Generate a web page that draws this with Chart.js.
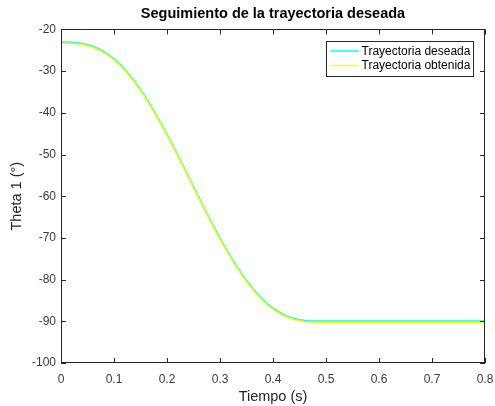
<!DOCTYPE html>
<html>
<head>
<meta charset="utf-8">
<title>Seguimiento de la trayectoria deseada</title>
<script src="https://cdn.jsdelivr.net/npm/chart.js@4/dist/chart.umd.min.js"></script>
<style>
  html, body { margin: 0; padding: 0; background: #fff; }
  .contenedor { position: relative; width: 495px; height: 406px; }
</style>
</head>
<body>
<div class="contenedor">
  <canvas id="grafico"></canvas>
</div>
<script>
// tiempo (s) y angulo theta 1 (grados)
const tiempo = [
  0, 0.01, 0.02, 0.03, 0.04, 0.05, 0.06, 0.07, 0.08, 0.09,
  0.10, 0.11, 0.12, 0.13, 0.14, 0.15, 0.16, 0.17, 0.18, 0.19,
  0.20, 0.21, 0.22, 0.23, 0.24, 0.25, 0.26, 0.27, 0.28, 0.29,
  0.30, 0.31, 0.32, 0.33, 0.34, 0.35, 0.36, 0.37, 0.38, 0.39,
  0.40, 0.41, 0.42, 0.43, 0.44, 0.45, 0.46, 0.47, 0.48, 0.49,
  0.50, 0.60, 0.70, 0.80
];
const thetaDeseada = [
  -23.10, -23.11, -23.14, -23.24, -23.42, -23.71, -24.11, -24.66, -25.35, -26.19,
  -27.19, -28.35, -29.67, -31.15, -32.78, -34.56, -36.47, -38.52, -40.68, -42.94,
  -45.29, -47.71, -50.19, -52.72, -55.27, -57.83, -60.38, -62.91, -65.39, -67.81,
  -70.16, -72.42, -74.58, -76.63, -78.54, -80.32, -81.95, -83.43, -84.75, -85.91,
  -86.91, -87.75, -88.44, -88.99, -89.39, -89.68, -89.86, -89.96, -89.99, -90.00,
  -90.00, -90.00, -90.00, -90.00
];
const thetaObtenida = [
  -23.30, -23.31, -23.34, -23.44, -23.62, -23.91, -24.31, -24.86, -25.55, -26.39,
  -27.39, -28.55, -29.87, -31.35, -32.98, -34.76, -36.67, -38.72, -40.88, -43.14,
  -45.49, -47.91, -50.39, -52.92, -55.47, -58.03, -60.58, -63.11, -65.59, -68.01,
  -70.36, -72.62, -74.78, -76.83, -78.74, -80.52, -82.15, -83.63, -84.95, -86.11,
  -87.11, -87.95, -88.64, -89.19, -89.59, -89.88, -90.06, -90.16, -90.19, -90.20,
  -90.20, -90.20, -90.20, -90.20
];
const ticksX = [0, 0.1, 0.2, 0.3, 0.4, 0.5, 0.6, 0.7, 0.8];
const ticksY = [-100, -90, -80, -70, -60, -50, -40, -30, -20];

const colorEjes = '#262626';
const fuente = 'Liberation Sans, Arial, Helvetica, sans-serif';

function puntos(ys) {
  return tiempo.map((t, i) => ({ x: t, y: ys[i] }));
}

// caja de ejes con marcas hacia dentro y leyenda dentro del area
const ejesMatlab = {
  id: 'ejesMatlab',
  afterDraw(chart) {
    const { ctx, chartArea: a, scales: { x, y } } = chart;
    const largo = 5;
    ctx.save();
    ctx.strokeStyle = colorEjes;
    ctx.lineWidth = 1;
    ctx.beginPath();
    x.ticks.forEach(t => {
      const px = Math.round(x.getPixelForValue(t.value)) + 0.5;
      ctx.moveTo(px, a.bottom); ctx.lineTo(px, a.bottom - largo);
      ctx.moveTo(px, a.top); ctx.lineTo(px, a.top + largo);
    });
    y.ticks.forEach(t => {
      const py = Math.round(y.getPixelForValue(t.value)) + 0.5;
      ctx.moveTo(a.left, py); ctx.lineTo(a.left + largo, py);
      ctx.moveTo(a.right, py); ctx.lineTo(a.right - largo, py);
    });
    ctx.stroke();
    ctx.strokeRect(Math.round(a.left) + 0.5, Math.round(a.top) + 0.5,
      Math.round(a.width) - 1, Math.round(a.height) - 1);

    // leyenda
    const w = 147, h = 35;
    const lx = Math.round(a.right) - 12 - w + 0.5;
    const ly = Math.round(a.top) + 12 + 0.5;
    ctx.fillStyle = '#fff';
    ctx.fillRect(lx, ly, w, h);
    ctx.strokeStyle = colorEjes;
    ctx.strokeRect(lx, ly, w, h);
    ctx.font = '12px ' + fuente;
    ctx.textBaseline = 'middle';
    chart.data.datasets.forEach((ds, i) => {
      const fy = ly + 9.5 + i * 14.5;
      ctx.strokeStyle = ds.borderColor;
      ctx.lineWidth = 1.5;
      ctx.beginPath();
      ctx.moveTo(lx + 4, fy); ctx.lineTo(lx + 32, fy);
      ctx.stroke();
      ctx.fillStyle = '#000';
      ctx.fillText(ds.label, lx + 35, fy + 0.5);
    });
    ctx.restore();
  }
};

new Chart(document.getElementById('grafico'), {
  type: 'line',
  data: {
    datasets: [
      {
        label: 'Trayectoria deseada',
        data: puntos(thetaDeseada),
        borderColor: '#00ffff',
        borderWidth: 2,
        pointRadius: 0,
        fill: false,
        order: 1
      },
      {
        label: 'Trayectoria obtenida',
        data: puntos(thetaObtenida),
        borderColor: '#ffff00',
        borderWidth: 1.5,
        pointRadius: 0,
        fill: false,
        order: 0
      }
    ]
  },
  options: {
    responsive: true,
    maintainAspectRatio: false,
    animation: false,
    layout: { padding: { left: 0, right: 10, top: 0, bottom: 0 } },
    plugins: {
      legend: { display: false },
      tooltip: { enabled: false },
      title: {
        display: true,
        fullSize: false,
        text: 'Seguimiento de la trayectoria deseada',
        color: '#000',
        font: { family: fuente, size: 14.5, weight: 'bold' },
        padding: { top: 5, bottom: 7 }
      }
    },
    scales: {
      x: {
        type: 'linear',
        min: 0,
        max: 0.8,
        afterBuildTicks: s => { s.ticks = ticksX.map(v => ({ value: v })); },
        afterFit: s => { s.height = 43; s.paddingLeft = 0; s.paddingRight = 0; },
        grid: { drawOnChartArea: false, drawTicks: false },
        border: { display: false },
        ticks: {
          padding: 9,
          color: '#3a3a3a',
          font: { family: fuente, size: 12 },
          maxRotation: 0,
          callback: v => String(Math.round(v * 10) / 10)
        },
        title: {
          display: true,
          text: 'Tiempo (s)',
          color: '#222',
          font: { family: fuente, size: 14.5 },
          padding: { top: 0, bottom: 0 }
        }
      },
      y: {
        type: 'linear',
        min: -100,
        max: -20,
        afterBuildTicks: s => { s.ticks = ticksY.map(v => ({ value: v })); },
        afterFit: s => { s.width = 61; },
        grid: { drawOnChartArea: false, drawTicks: false },
        border: { display: false },
        ticks: {
          padding: 5,
          color: '#3a3a3a',
          font: { family: fuente, size: 12 }
        },
        title: {
          display: true,
          text: 'Theta 1 (°)',
          color: '#222',
          font: { family: fuente, size: 14.5 },
          padding: { top: 8, bottom: 0 }
        }
      }
    }
  },
  plugins: [ejesMatlab]
});
</script>
</body>
</html>
